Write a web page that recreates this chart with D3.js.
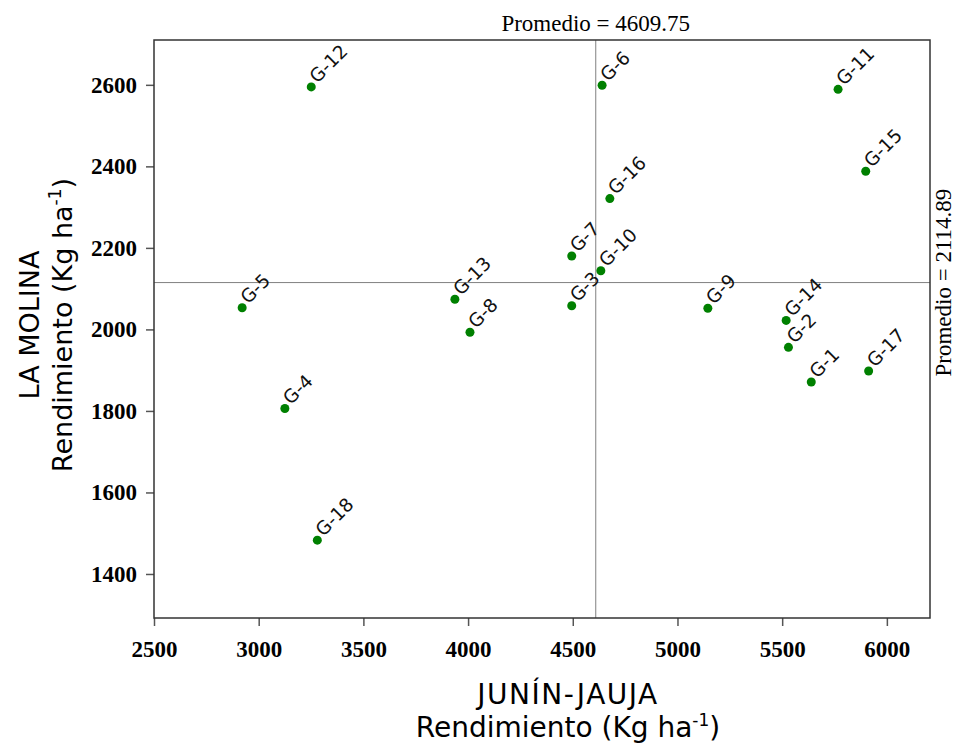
<!DOCTYPE html>
<html>
<head>
<meta charset="utf-8">
<script src="https://cdn.jsdelivr.net/npm/d3@7"></script>
<style>
  body { margin: 0; background: #fff; }
</style>
</head>
<body>
<svg id="area" width="957" height="745"></svg>
<script>
// genotipos y rendimientos (Kg/ha)
const genotipos = ['G-1', 'G-2', 'G-3', 'G-4', 'G-5', 'G-6', 'G-7', 'G-8', 'G-9',
  'G-10', 'G-11', 'G-12', 'G-13', 'G-14', 'G-15', 'G-16', 'G-17', 'G-18'];
const junin = [5639, 5530, 4495, 3125, 2921, 4640, 4495, 4009, 5145,
  4634, 5767, 3251, 3937, 5519, 5899, 4677, 5913, 3280];
const laMolina = [1871, 1956, 2058, 1806, 2053, 2599, 2180, 1993, 2052,
  2144, 2589, 2595, 2074, 2022, 2388, 2321, 1898, 1483];
const xTicks = [2500, 3000, 3500, 4000, 4500, 5000, 5500, 6000];
const yTicks = [1400, 1600, 1800, 2000, 2200, 2400, 2600];
const meanX = 4609.75;
const meanY = 2114.89;

const data = genotipos.map((g, i) => ({ g, x: junin[i], y: laMolina[i] }));

const svg = d3.select('#area');
const margin = { left: 154, right: 27, top: 40, bottom: 127 };
const width = 957;
const height = 745;

const x = d3.scaleLinear()
  .domain([2500, 6206])
  .range([margin.left, width - margin.right]);
const y = d3.scaleLinear()
  .domain([1292, 2710])
  .range([height - margin.bottom, margin.top]);

const tickFont = 'bold 23px "Liberation Serif", "Times New Roman", serif';
const serifFont = '23px "Liberation Serif", "Times New Roman", serif';
const sansFont = '"DejaVu Sans", Verdana, sans-serif';

// ejes
svg.append('g')
  .attr('transform', `translate(0,${height - margin.bottom})`)
  .call(d3.axisBottom(x).tickValues(xTicks).tickSize(8).tickPadding(15).tickFormat(d3.format('d')))
  .call((g) => g.select('.domain').remove())
  .call((g) => g.selectAll('.tick line').attr('stroke', '#555').attr('stroke-width', 1.5))
  .call((g) => g.selectAll('.tick text').style('font', tickFont).attr('fill', '#000'));

svg.append('g')
  .attr('transform', `translate(${margin.left},0)`)
  .call(d3.axisLeft(y).tickValues(yTicks).tickSize(8).tickPadding(9).tickFormat(d3.format('d')))
  .call((g) => g.select('.domain').remove())
  .call((g) => g.selectAll('.tick line').attr('stroke', '#555').attr('stroke-width', 1.5))
  .call((g) => g.selectAll('.tick text').style('font', tickFont).attr('fill', '#000'));

// lineas de promedio
svg.append('line')
  .attr('x1', x(meanX)).attr('x2', x(meanX))
  .attr('y1', margin.top).attr('y2', height - margin.bottom)
  .attr('stroke', '#808080').attr('stroke-width', 1);
svg.append('line')
  .attr('x1', margin.left).attr('x2', width - margin.right)
  .attr('y1', y(meanY)).attr('y2', y(meanY))
  .attr('stroke', '#808080').attr('stroke-width', 1);

// marco
svg.append('rect')
  .attr('x', margin.left).attr('y', margin.top)
  .attr('width', width - margin.left - margin.right)
  .attr('height', height - margin.top - margin.bottom)
  .attr('fill', 'none').attr('stroke', '#333').attr('stroke-width', 1.5);

// etiquetas de promedio
svg.append('text')
  .attr('x', x(meanX)).attr('y', 31)
  .attr('text-anchor', 'middle')
  .style('font', serifFont)
  .text(`Promedio = ${meanX}`);
svg.append('text')
  .attr('transform', `translate(951,${y(meanY)}) rotate(-90)`)
  .attr('text-anchor', 'middle')
  .style('font', serifFont)
  .text(`Promedio = ${meanY}`);

// puntos
svg.append('g')
  .selectAll('circle')
  .data(data)
  .join('circle')
  .attr('cx', (d) => x(d.x))
  .attr('cy', (d) => y(d.y))
  .attr('r', 4.5)
  .attr('fill', '#008000');

svg.append('g')
  .selectAll('text')
  .data(data)
  .join('text')
  .attr('transform', (d) => `translate(${x(d.x) + 6},${y(d.y) - 3}) rotate(-45)`)
  .style('font', `18.5px ${sansFont}`)
  .attr('fill', '#111')
  .text((d) => d.g);

// titulos de ejes
const xTitle = svg.append('text')
  .attr('text-anchor', 'middle')
  .style('font', `28px ${sansFont}`)
  .attr('fill', '#000');
xTitle.append('tspan').attr('x', 568).attr('y', 704)
  .style('letter-spacing', '1.5px').text('JUNÍN-JAUJA');
const xl2 = xTitle.append('tspan').attr('x', 568).attr('y', 737);
xl2.append('tspan').text('Rendimiento (Kg ha');
xl2.append('tspan').attr('dy', -11).style('font-size', '17px').text('-1');
xl2.append('tspan').attr('dy', 11).text(')');

const yTitle = svg.append('text')
  .attr('transform', 'translate(0,325) rotate(-90)')
  .attr('text-anchor', 'middle')
  .style('font', `27px ${sansFont}`)
  .attr('fill', '#000');
yTitle.append('tspan').attr('x', 0).attr('y', 39).text('LA MOLINA');
const yl2 = yTitle.append('tspan').attr('x', 0).attr('y', 72);
yl2.append('tspan').text('Rendimiento (Kg ha');
yl2.append('tspan').attr('dy', -11).style('font-size', '17px').text('-1');
yl2.append('tspan').attr('dy', 11).text(')');
</script>
</body>
</html>
